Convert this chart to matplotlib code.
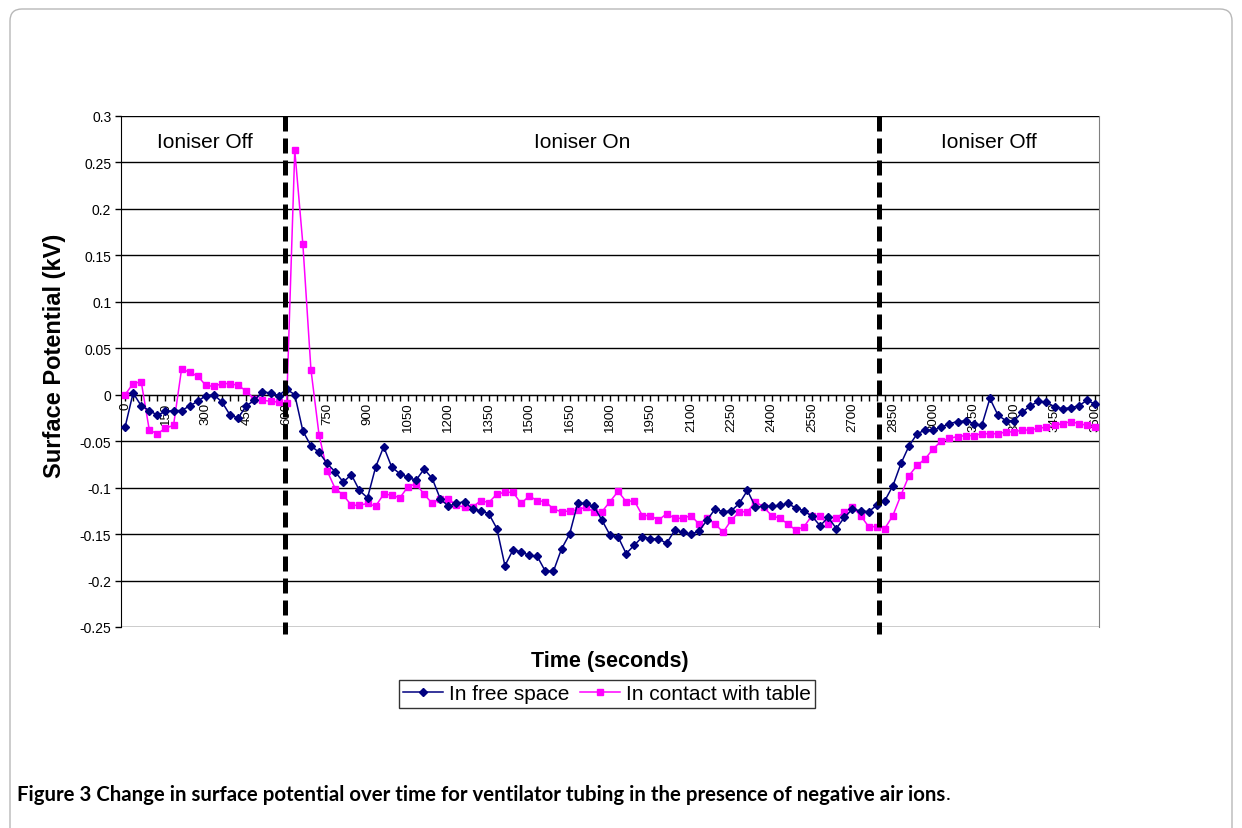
import matplotlib
matplotlib.use("Agg")
import matplotlib.pyplot as plt
from matplotlib.patches import FancyBboxPatch
import numpy as np

# ---------------- data ----------------
time_s = list(range(0, 3601, 30))
free_space = [
    -0.035, 0.002, -0.012, -0.017, -0.022, -0.018, -0.017, -0.017, -0.012, -0.007,
    -0.001, 0.000, -0.008, -0.022, -0.025, -0.012, -0.006, 0.003, 0.002, -0.001,
    0.006, 0.000, -0.039, -0.055, -0.062, -0.074, -0.083, -0.094, -0.086, -0.103,
    -0.111, -0.078, -0.056, -0.078, -0.085, -0.089, -0.092, -0.080, -0.090, -0.112,
    -0.120, -0.117, -0.115, -0.123, -0.125, -0.128, -0.144, -0.184, -0.167, -0.169,
    -0.173, -0.174, -0.190, -0.190, -0.166, -0.150, -0.117, -0.117, -0.120, -0.135,
    -0.151, -0.153, -0.171, -0.162, -0.153, -0.155, -0.155, -0.160, -0.146, -0.148,
    -0.150, -0.147, -0.135, -0.123, -0.126, -0.125, -0.117, -0.103, -0.121, -0.120,
    -0.120, -0.119, -0.117, -0.122, -0.125, -0.131, -0.141, -0.132, -0.144, -0.132,
    -0.123, -0.125, -0.126, -0.119, -0.114, -0.098, -0.074, -0.055, -0.042, -0.038,
    -0.038, -0.035, -0.031, -0.029, -0.028, -0.031, -0.033, -0.004, -0.022, -0.028,
    -0.028, -0.019, -0.012, -0.007, -0.008, -0.013, -0.015, -0.014, -0.012, -0.006,
    -0.010,
]
with_table = [
    0.000, 0.012, 0.014, -0.038, -0.042, -0.036, -0.033, 0.028, 0.024, 0.020,
    0.010, 0.009, 0.012, 0.012, 0.010, 0.004, -0.005, -0.006, -0.007, -0.008,
    -0.009, 0.263, 0.162, 0.027, -0.043, -0.082, -0.101, -0.108, -0.119, -0.119,
    -0.117, -0.120, -0.107, -0.108, -0.111, -0.099, -0.096, -0.107, -0.117, -0.112,
    -0.112, -0.119, -0.121, -0.121, -0.114, -0.116, -0.107, -0.105, -0.105, -0.117,
    -0.109, -0.114, -0.115, -0.123, -0.126, -0.125, -0.124, -0.121, -0.126, -0.126,
    -0.115, -0.104, -0.115, -0.114, -0.130, -0.130, -0.135, -0.128, -0.133, -0.133,
    -0.130, -0.139, -0.133, -0.139, -0.148, -0.135, -0.126, -0.126, -0.115, -0.121,
    -0.130, -0.133, -0.139, -0.146, -0.142, -0.130, -0.131, -0.139, -0.133, -0.126,
    -0.121, -0.130, -0.142, -0.142, -0.144, -0.130, -0.108, -0.087, -0.076, -0.069,
    -0.058, -0.050, -0.047, -0.045, -0.044, -0.044, -0.042, -0.042, -0.042, -0.040,
    -0.040, -0.038, -0.038, -0.036, -0.035, -0.033, -0.031, -0.029, -0.031, -0.033,
    -0.035,
]
series_names = ["In free space", "In contact with table"]
switch_times = [595, 2797]
phase_labels = ["Ioniser Off", "Ioniser On", "Ioniser Off"]
y_ticks = [0.3, 0.25, 0.2, 0.15, 0.1, 0.05, 0, -0.05, -0.1, -0.15, -0.2, -0.25]
x_label_step = 150
caption_bold = "Figure 3 Change in surface potential over time for ventilator tubing in the presence of negative air ions"
caption_end = "."

# ---------------- figure ----------------
W, H = 1242, 829
fig = plt.figure(figsize=(W / 100, H / 100), dpi=100)
chart_font = ["Liberation Sans", "DejaVu Sans"]

# outer rounded frame
frame = FancyBboxPatch((0.10, -0.3), 12.22, 8.49,
                       boxstyle="round,pad=0,rounding_size=0.12",
                       transform=fig.dpi_scale_trans, fill=False,
                       edgecolor="#b8b8b8", linewidth=1.0)
fig.patches.append(frame)

L, R, T, B = 121, 1099, 117, 628
ax = fig.add_axes([L / W, 1 - B / H, (R - L) / W, (B - T) / H])
ax.set_xlim(-15, 3615)
ax.set_ylim(-0.25, 0.3)

# grid lines
for yv in y_ticks:
    ax.axhline(yv, color="black", lw=1.0, zorder=1)

ax.plot(time_s, free_space, color="#000080", lw=1.1, marker="D", ms=4.2,
        label=series_names[0], zorder=4)
ax.plot(time_s, with_table, color="#FF00FF", lw=1.1, marker="s", ms=5.0,
        label=series_names[1], zorder=3)

for st in switch_times:
    ax.plot([st, st], [0.3, -0.258], color="black", lw=3.6,
            linestyle=(0, (3.0, 1.4)), clip_on=False, zorder=5)

# phase labels, centred in each phase
bounds = [0] + switch_times + [3615]
for i, lab in enumerate(phase_labels):
    xm = (bounds[i] + bounds[i + 1]) / 2
    ax.text(xm, 0.273, lab, ha="center", va="center", fontsize=15,
            family=chart_font)

# axes styling
ax.spines["left"].set_color("black")
ax.spines["right"].set_color("#808080")
ax.spines["top"].set_visible(False)
ax.spines["bottom"].set_position(("data", 0))
ax.spines["bottom"].set_color("black")

ax.set_yticks(y_ticks)
ax.set_yticklabels([("%g" % v) for v in y_ticks], family=chart_font, fontsize=10)
ax.tick_params(axis="y", direction="out", length=4, width=1, pad=3)

ax.set_xticks(time_s)
ax.set_xticklabels([str(t) if t % x_label_step == 0 else "" for t in time_s],
                   rotation=90, family=chart_font, fontsize=9.5)
ax.tick_params(axis="x", direction="out", length=4, width=1, pad=1)

fig.text(55 / W, 1 - 356 / H, "Surface Potential (kV)", rotation=90,
         ha="center", va="center", fontsize=17, fontweight="bold",
         family=chart_font)
fig.text(610 / W, 1 - 662 / H, "Time (seconds)", ha="center", va="center",
         fontsize=15.5, fontweight="bold", family=chart_font)

leg = fig.legend(loc="center", bbox_to_anchor=(607 / W, 1 - 695 / H), ncol=2,
                 frameon=True, fancybox=False, edgecolor="black",
                 prop={"family": chart_font, "size": 15},
                 handlelength=1.9, handletextpad=0.3, columnspacing=0.5,
                 borderpad=0.2, borderaxespad=0)
leg.get_frame().set_linewidth(1.0)

# caption: bold title then a plain full stop, scaled to reference width
cap_font = ["Lato", "DejaVu Sans"]
fig.canvas.draw()
renderer = fig.canvas.get_renderer()
target_w = 930
fs = 12
for _ in range(3):
    t1 = fig.text(17 / W, 1 - 795 / H, caption_bold, fontsize=fs,
                  fontweight="bold", family=cap_font, va="center", ha="left")
    w1 = t1.get_window_extent(renderer).width
    t1.remove()
    fs = fs * target_w / w1
t1 = fig.text(17 / W, 1 - 795 / H, caption_bold, fontsize=fs,
              fontweight="bold", family=cap_font, va="center", ha="left")
w1 = t1.get_window_extent(renderer).width
fig.text((17 + w1 + 1) / W, 1 - 795 / H, caption_end, fontsize=fs,
         family=cap_font, va="center", ha="left")

fig.savefig("out.png", dpi=100)
